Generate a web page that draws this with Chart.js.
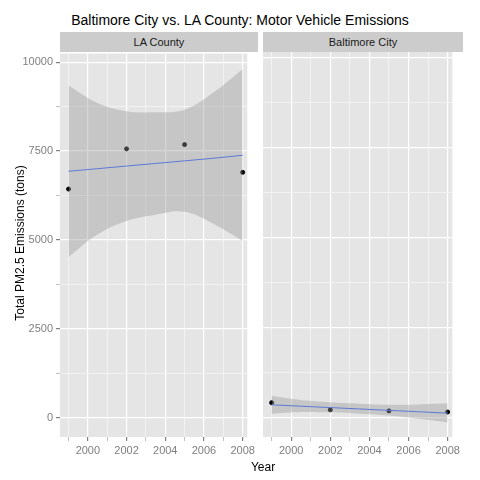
<!DOCTYPE html>
<html><head><meta charset="utf-8">
<script src="https://cdn.jsdelivr.net/npm/chart.js@4"></script>
<style>
body{margin:0;width:480px;height:480px;background:#fff;font-family:"Liberation Sans",Arial,sans-serif;position:relative;overflow:hidden}
.box{position:absolute}
.strip{position:absolute;top:32px;height:20px;background:#ccc;font-size:11px;text-align:center;line-height:20px;color:#1a1a1a}
</style></head>
<body>
<div class="box" style="left:0;top:44px;width:258px;height:436px"><canvas id="c1"></canvas></div>
<div class="box" style="left:258px;top:44px;width:205px;height:436px"><canvas id="c2"></canvas></div>
<div class="box" style="left:0;top:12px;width:480px;text-align:center;font-size:14px">Baltimore City vs. LA County: Motor Vehicle Emissions</div>
<div class="strip" style="left:60px;width:198px">LA County</div>
<div class="strip" style="left:263px;width:200px">Baltimore City</div>
<div class="box" style="left:0;top:460px;width:526px;text-align:center;font-size:12px">Year</div>
<div class="box" style="left:-80px;top:236px;width:200px;text-align:center;font-size:12px;transform:rotate(-90deg)">Total PM2.5 Emissions (tons)</div>
<script>
var years = [1999, 2002, 2005, 2008];
var laValues = [6430, 7560, 7680, 6900];
var baltValues = [410, 210, 180, 150];
var fitYears = [1999, 2000.5, 2002, 2003.5, 2005, 2006.5, 2008];
var laFit = [6930, 7003, 7077, 7150, 7223, 7297, 7380];
var laUpper = [9340, 8850, 8620, 8590, 8660, 9150, 9800];
var laLower = [4520, 5150, 5530, 5710, 5790, 5450, 4970];
var baltFit = [350, 311, 273, 234, 195, 157, 118];
var baltUpper = [600, 480, 420, 380, 350, 360, 390];
var baltLower = [100, 150, 140, 100, 50, -40, -140];

function xy(xs, ys){ return xs.map(function(x, i){ return {x: x, y: ys[i]}; }); }

var bgPlugin = {
  id: 'bg',
  beforeDraw: function(chart){
    var a = chart.chartArea, ctx = chart.ctx;
    ctx.save(); ctx.fillStyle = '#e5e5e5';
    ctx.fillRect(a.left, a.top, a.right - a.left, a.bottom - a.top);
    ctx.restore();
  }
};

function makeChart(id, pts, fit, up, lo, showY){
  new Chart(document.getElementById(id), {
    type: 'scatter',
    data: {
      datasets: [
        {data: xy(fitYears, up), showLine: true, pointRadius: 0, borderWidth: 0, tension: 0.4, fill: false},
        {data: xy(fitYears, lo), showLine: true, pointRadius: 0, borderWidth: 0, tension: 0.4, fill: '-1', backgroundColor: 'rgba(153,153,153,0.4)'},
        {data: xy(fitYears, fit), showLine: true, pointRadius: 0, borderColor: '#3366ff', borderWidth: 1},
        {data: xy(years, pts), pointRadius: 2, backgroundColor: '#000', borderColor: '#000'}
      ]
    },
    options: {
      responsive: true, maintainAspectRatio: false, animation: false,
      layout: {padding: 0},
      plugins: {legend: {display: false}, tooltip: {enabled: false}},
      scales: {
        x: {
          type: 'linear', min: 1998.56, max: 2008.24,
          afterBuildTicks: function(s){ s.ticks = [1999,2000,2001,2002,2003,2004,2005,2006,2007,2008].map(function(v){ return {value: v}; }); },
          afterFit: function(s){ s.height = 43; },
          ticks: {color: '#7f7f7f', font: {size: 11}, maxRotation: 0, autoSkip: false,
            callback: function(v){ return v % 2 === 0 ? String(v) : ''; }},
          grid: {color: '#fff', lineWidth: function(c){ return c.tick && c.tick.value % 2 === 0 ? 1.2 : 0.5; },
            tickColor: '#7f7f7f', tickLength: 4, drawTicks: true},
          border: {display: false}
        },
        y: {
          min: -545, max: 10240,
          afterBuildTicks: function(s){ s.ticks = [0,1250,2500,3750,5000,6250,7500,8750,10000].map(function(v){ return {value: v}; }); },
          afterFit: function(s){ s.width = showY ? 60 : 5; },
          ticks: {display: showY, color: '#7f7f7f', font: {size: 11},
            callback: function(v){ return v % 2500 === 0 ? String(v) : ''; }},
          grid: {color: '#fff', lineWidth: function(c){ return c.tick && c.tick.value % 2500 === 0 ? 1.2 : 0.5; },
            tickColor: '#7f7f7f', tickLength: showY ? 4 : 0},
          border: {display: false}
        }
      }
    },
    plugins: [bgPlugin]
  });
}
makeChart('c1', laValues, laFit, laUpper, laLower, true);
makeChart('c2', baltValues, baltFit, baltUpper, baltLower, false);
</script>
</body></html>
